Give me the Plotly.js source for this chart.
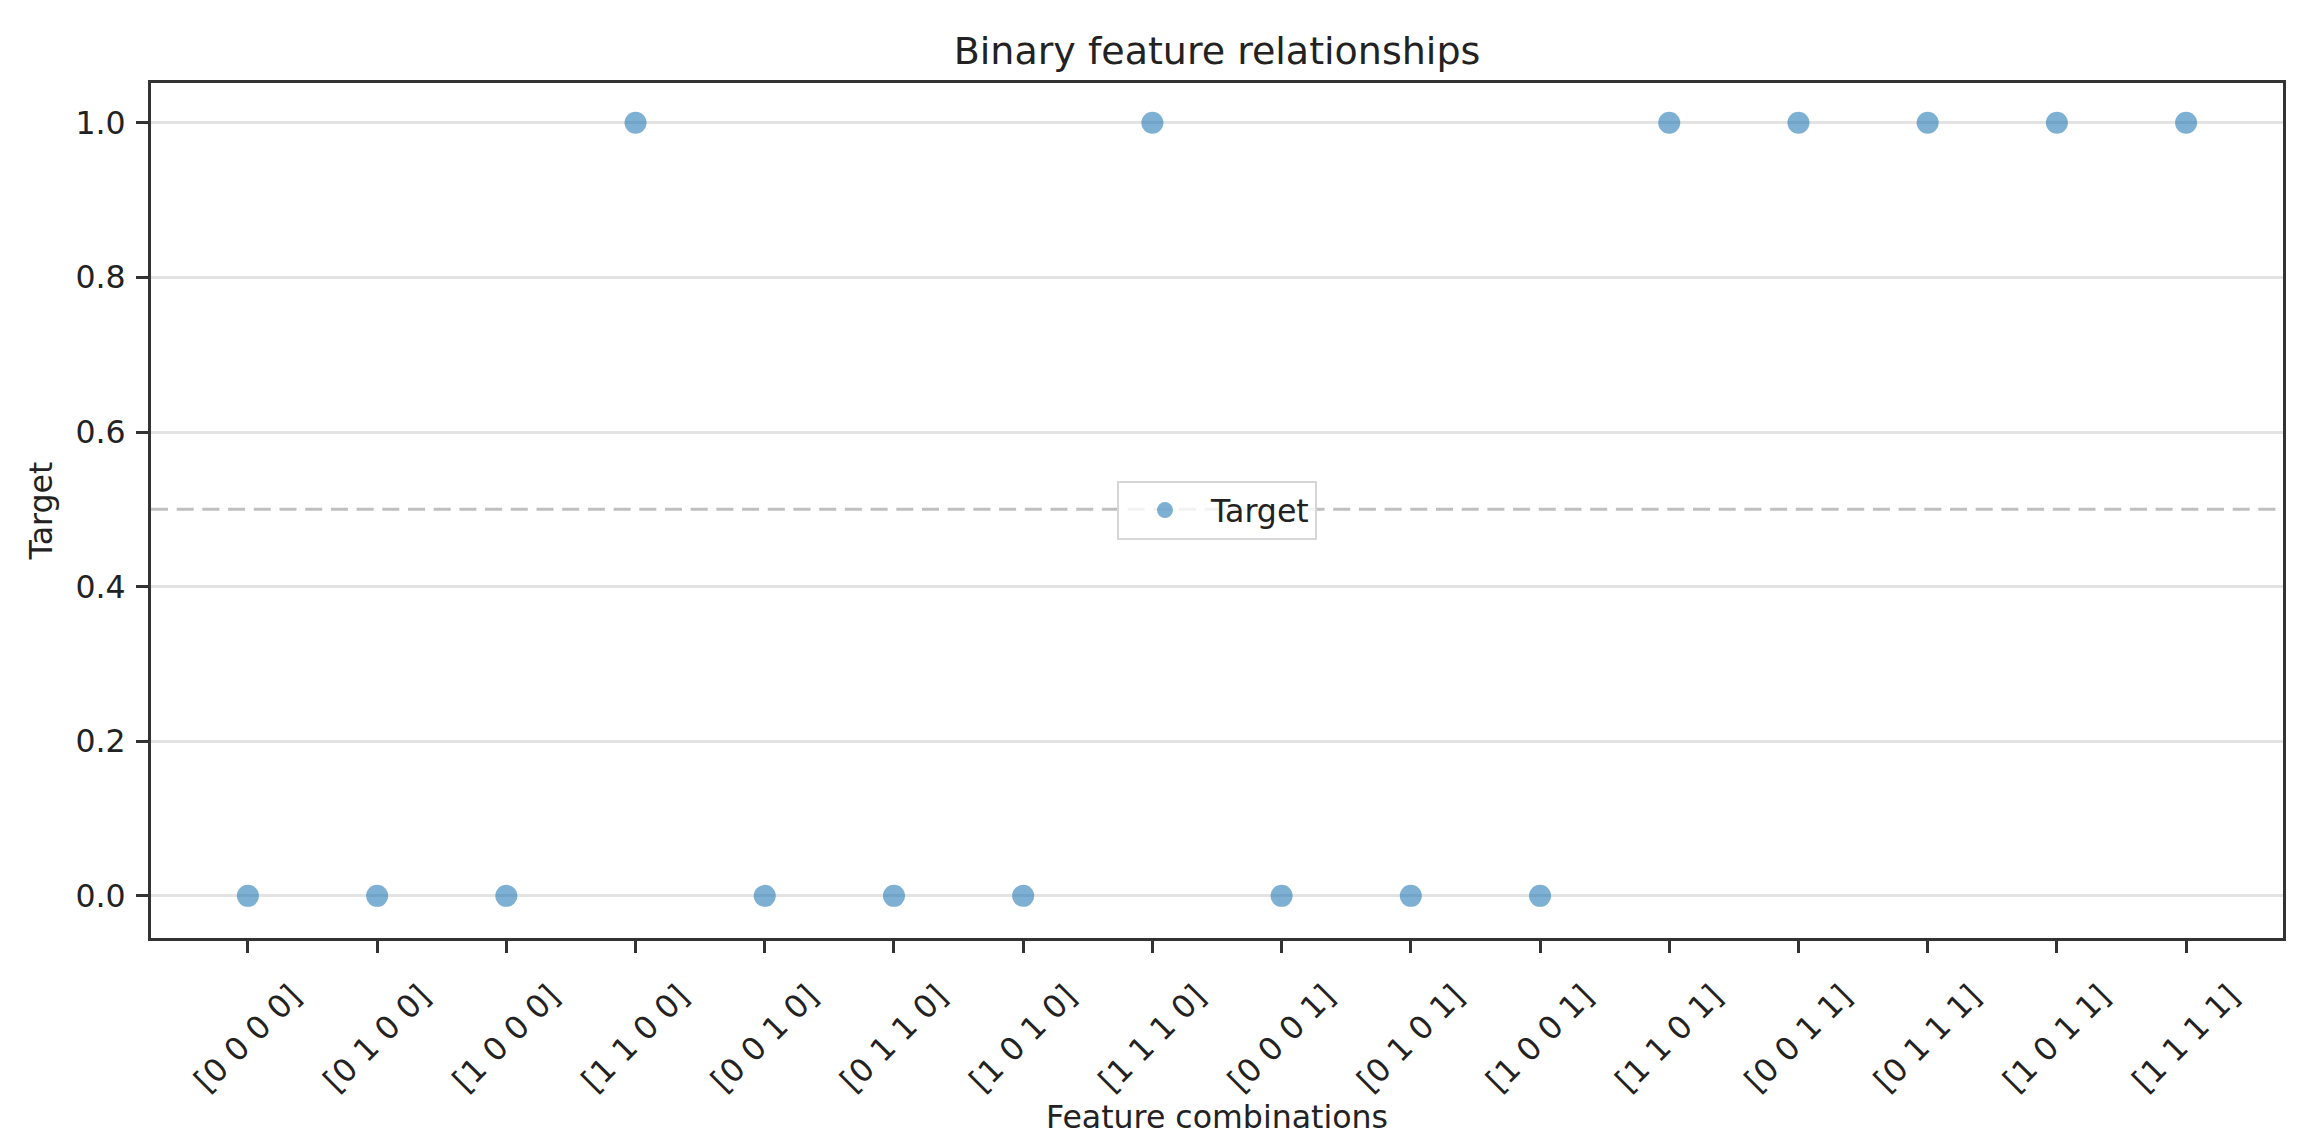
<!DOCTYPE html>
<html>
<head>
<meta charset="utf-8">
<script src="https://cdn.plot.ly/plotly-3.0.1.min.js"></script>
<style>
  html, body { margin: 0; padding: 0; background: #ffffff; }
  #chart { width: 2317px; height: 1146px; }
</style>
</head>
<body>
<div id="chart"></div>
<script>
const categories = [
  '[0 0 0 0]', '[0 1 0 0]', '[1 0 0 0]', '[1 1 0 0]',
  '[0 0 1 0]', '[0 1 1 0]', '[1 0 1 0]', '[1 1 1 0]',
  '[0 0 0 1]', '[0 1 0 1]', '[1 0 0 1]', '[1 1 0 1]',
  '[0 0 1 1]', '[0 1 1 1]', '[1 0 1 1]', '[1 1 1 1]'
];
const targetValues = [0, 0, 0, 1, 0, 0, 0, 1, 0, 0, 0, 1, 1, 1, 1, 1];
const yTickValues = [0.0, 0.2, 0.4, 0.6, 0.8, 1.0];
const yTickLabels = ['0.0', '0.2', '0.4', '0.6', '0.8', '1.0'];
const thresholdValue = 0.5;

const FONT = 'DejaVu Sans, sans-serif';
const TEXT = '#222222';
const FRAME = '#333333';

const trace = {
  type: 'scatter',
  mode: 'markers',
  name: 'Target',
  x: categories,
  y: targetValues,
  marker: { color: '#1f77b4', opacity: 0.58, size: 22, line: { width: 0 } },
  showlegend: true
};

const layout = {
  width: 2317,
  height: 1146,
  paper_bgcolor: '#ffffff',
  plot_bgcolor: '#ffffff',
  margin: { l: 151, r: 34, t: 83, b: 208, pad: 0 },
  font: { family: FONT, size: 31.6, color: TEXT },
  title: {
    text: 'Binary feature relationships',
    font: { family: FONT, size: 38, color: TEXT },
    x: 0.5, xref: 'paper', xanchor: 'center',
    y: 1, yref: 'paper', yanchor: 'bottom',
    pad: { b: 19 }
  },
  xaxis: {
    type: 'category',
    categoryorder: 'array',
    categoryarray: categories,
    range: [-0.75, 15.75],
    showgrid: false,
    zeroline: false,
    showline: true, mirror: true, linecolor: FRAME, linewidth: 3,
    ticks: 'outside', ticklen: 12, tickwidth: 3, tickcolor: FRAME,
    tickangle: -45,
    ticklabelshift: 44,
    ticklabelstandoff: 12,
    tickfont: { family: FONT, size: 31.6, color: TEXT },
    title: { text: 'Feature combinations', font: { family: FONT, size: 31.6, color: TEXT }, standoff: 0 },
    automargin: false,
    fixedrange: true
  },
  yaxis: {
    range: [-0.0545, 1.0515],
    tickmode: 'array',
    tickvals: yTickValues,
    ticktext: yTickLabels,
    showgrid: true, gridcolor: '#e3e3e3', gridwidth: 3,
    zeroline: false,
    showline: true, mirror: true, linecolor: FRAME, linewidth: 3,
    ticks: 'outside', ticklen: 12, tickwidth: 3, tickcolor: FRAME,
    ticklabelstandoff: 4,
    tickfont: { family: FONT, size: 31.6, color: TEXT },
    title: { text: 'Target', font: { family: FONT, size: 31.6, color: TEXT }, standoff: 14 },
    automargin: false,
    fixedrange: true
  },
  shapes: [{
    type: 'line', xref: 'paper', x0: 0, x1: 1,
    yref: 'y', y0: thresholdValue, y1: thresholdValue,
    line: { color: 'rgba(128,128,128,0.5)', width: 3, dash: '17px,8.7px' },
    layer: 'below'
  }],
  legend: {
    x: 0.5, xanchor: 'center', y: 0.5, yanchor: 'middle',
    bgcolor: 'rgba(255,255,255,0.8)',
    bordercolor: '#d6d6d6', borderwidth: 2,
    font: { family: FONT, size: 31.6, color: TEXT },
    itemwidth: 82
  },
  showlegend: true
};

Plotly.newPlot('chart', [trace], layout, { displayModeBar: false, staticPlot: true });
</script>
</body>
</html>
